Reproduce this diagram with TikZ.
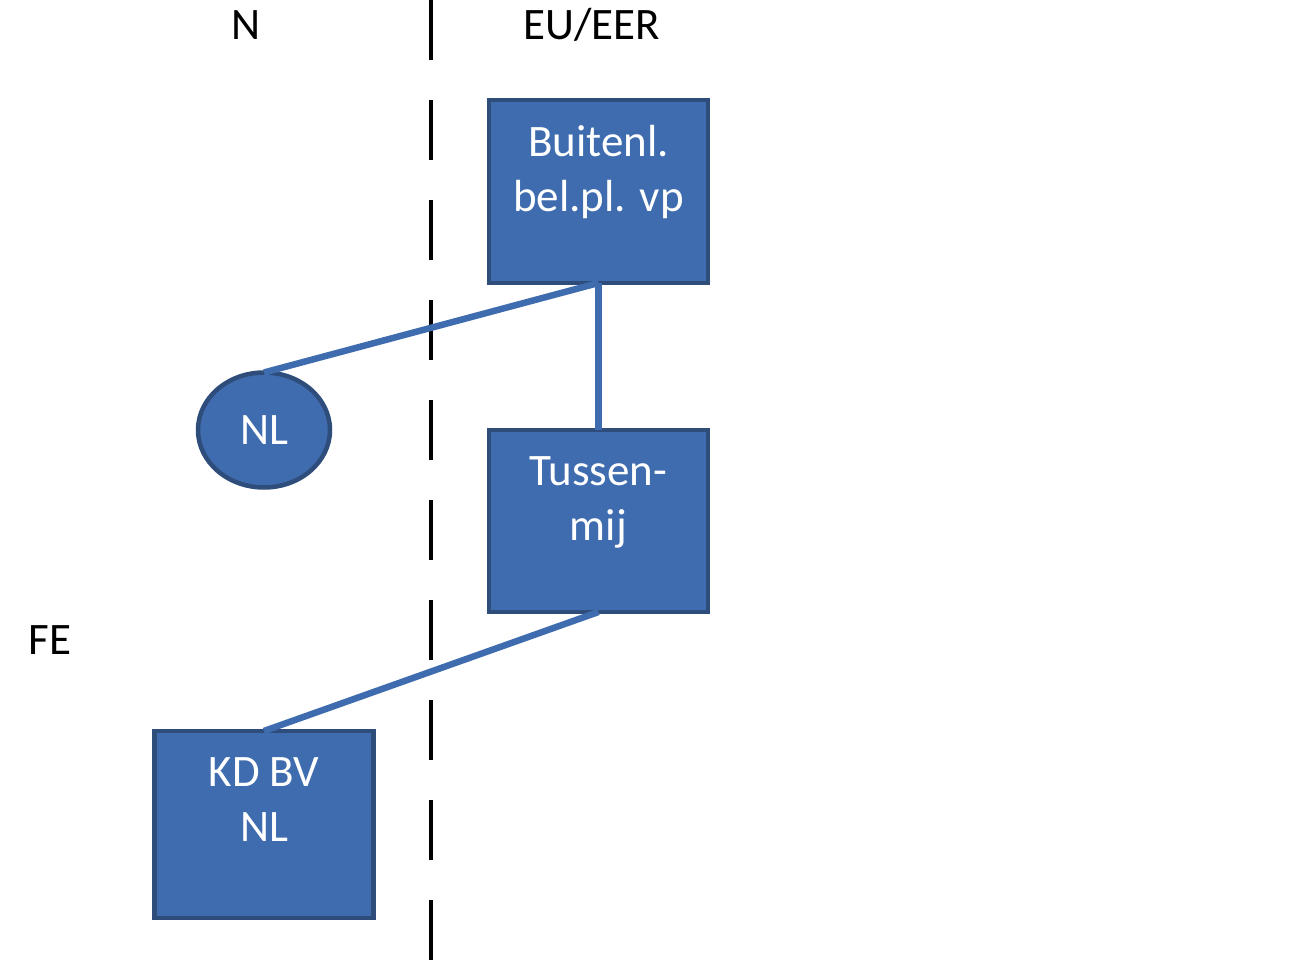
\documentclass[tikz,border=0pt]{standalone}
\usepackage{fontspec}
\setmainfont{Carlito}
\definecolor{boxfill}{RGB}{63,108,175}
\definecolor{boxline}{RGB}{46,77,123}
\definecolor{conn}{RGB}{63,108,175}
\begin{document}
\begin{tikzpicture}[x=1pt,y=-1pt,
  entity/.style={draw=boxline, fill=boxfill, line width=4.5pt, rectangle, minimum width=219pt, minimum height=183pt, inner sep=0pt, outer sep=0pt},
  oval/.style={draw=boxline, fill=boxfill, line width=4.5pt, ellipse, minimum width=132pt, minimum height=115pt, inner sep=0pt, outer sep=0pt, text=white, font=\fontsize{45}{55}\selectfont},
  boxtext/.style={text=white, font=\fontsize{45}{55}\selectfont, align=center, inner sep=0pt, anchor=north},
  label/.style={font=\fontsize{45}{54}\selectfont, inner sep=0pt},
  link/.style={draw=conn, line width=6.5pt},
  divider/.style={line width=4.5pt, dash pattern=on 60pt off 40pt}
]
\usetikzlibrary{shapes.geometric}
\useasboundingbox (0,0) rectangle (1299,965);
\coordinate (dtop) at (431,0);
\coordinate (dbot) at (431,965);
\draw[divider] (dtop) -- (dbot);
\node[label] (lN) at (246,25) {N};
\node[label] (lEU) at (592,25) {EU/EER};
\node[label] (lFE) at (50,640) {FE};
\node[entity, minimum height=183pt] (b1) at (598.5,191.5) {};
\node[entity, minimum height=182pt] (b2) at (598.5,521) {};
\node[entity, minimum height=187pt] (b3) at (264,824.5) {};
\node[oval] (nl) at (264,430) {NL};
\draw[link] (b1.south) -- (nl.north);
\draw[link] (b1.south) -- (b2.north);
\draw[link] (b2.south) -- (b3.north);
\node[boxtext] (t1) at (598.5,125) {Buitenl.\\bel.pl. vp};
\node[boxtext] (t2) at (598.5,456) {Tussen-\\mij};
\node[boxtext] (t3) at (264,757) {KD BV\\NL};
\end{tikzpicture}
\end{document}
